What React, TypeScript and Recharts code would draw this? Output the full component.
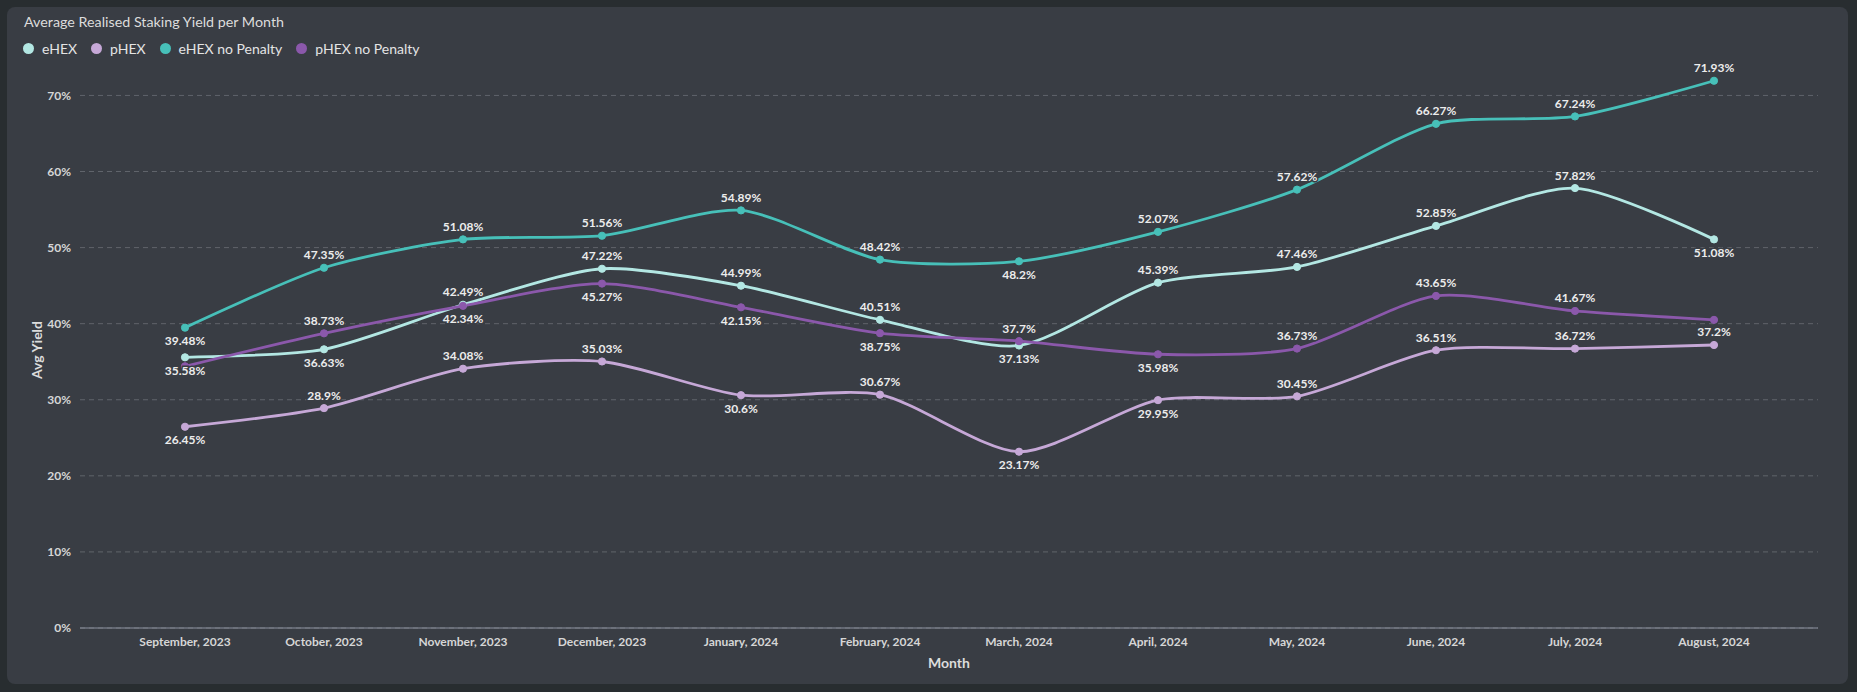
import React from "react";
import {
  LineChart,
  Line,
  XAxis,
  YAxis,
  CartesianGrid,
  LabelList,
  Label,
} from "recharts";

const months = [
  "September, 2023",
  "October, 2023",
  "November, 2023",
  "December, 2023",
  "January, 2024",
  "February, 2024",
  "March, 2024",
  "April, 2024",
  "May, 2024",
  "June, 2024",
  "July, 2024",
  "August, 2024",
];

const eHex = [35.58, 36.63, 42.49, 47.22, 44.99, 40.51, 37.13, 45.39, 47.46, 52.85, 57.82, 51.08];
const pHex = [26.45, 28.9, 34.08, 35.03, 30.6, 30.67, 23.17, 29.95, 30.45, 36.51, 36.72, 37.2];
const eHexNoPenalty = [39.48, 47.35, 51.08, 51.56, 54.89, 48.42, 48.2, 52.07, 57.62, 66.27, 67.24, 71.93];
const pHexNoPenalty = [34.4, 38.73, 42.34, 45.27, 42.15, 38.75, 37.7, 35.98, 36.73, 43.65, 41.67, 40.5];

const yTicks = [0, 10, 20, 30, 40, 50, 60, 70];

// which side of the point each value label sits on (null = label hidden)
type Side = "above" | "below" | null;
const eHexSides: Side[] = ["below", "below", "above", "above", "above", "above", "below", "above", "above", "above", "above", "below"];
const pHexSides: Side[] = ["below", "above", "above", "above", "below", "above", "below", "below", "above", "above", "above", "above"];
const eHexNpSides: Side[] = ["below", "above", "above", "above", "above", "above", "below", "above", "above", "above", "above", "above"];
const pHexNpSides: Side[] = [null, "above", "below", "below", "below", "below", "above", "below", "above", "above", "above", null];

const rows = months.map((month, i) => ({
  month,
  eHex: eHex[i],
  pHex: pHex[i],
  eHexNp: eHexNoPenalty[i],
  pHexNp: pHexNoPenalty[i],
}));

const CARD = "#393d44";
const FONT = "Lato, 'Noto Sans', sans-serif";

const series = [
  { key: "eHex", name: "eHEX", color: "#b3e7e3", sides: eHexSides },
  { key: "pHex", name: "pHEX", color: "#c6a8d7", sides: pHexSides },
  { key: "eHexNp", name: "eHEX no Penalty", color: "#47c0b9", sides: eHexNpSides },
  { key: "pHexNp", name: "pHEX no Penalty", color: "#8b58ab", sides: pHexNpSides },
];

// echarts-like smooth bezier
const SMOOTH = 0.25;
function smoothCurve(context: any) {
  let xs: number[] = [];
  let ys: number[] = [];
  return {
    areaStart() {},
    areaEnd() {},
    lineStart() {
      xs = [];
      ys = [];
    },
    point(x: number, y: number) {
      xs.push(+x);
      ys.push(+y);
    },
    lineEnd() {
      const n = xs.length;
      if (!n) return;
      const before: number[][] = [];
      const after: number[][] = [];
      for (let i = 0; i < n; i++) {
        if (i === 0 || i === n - 1) {
          before[i] = [xs[i], ys[i]];
          after[i] = [xs[i], ys[i]];
          continue;
        }
        const dx = xs[i + 1] - xs[i - 1];
        const dy = ys[i + 1] - ys[i - 1];
        const lp = Math.hypot(xs[i] - xs[i - 1], ys[i] - ys[i - 1]);
        const ln = Math.hypot(xs[i + 1] - xs[i], ys[i + 1] - ys[i]);
        const r = ln / (lp + ln || 1);
        before[i] = [xs[i] - dx * SMOOTH * (1 - r), ys[i] - dy * SMOOTH * (1 - r)];
        after[i] = [xs[i] + dx * SMOOTH * r, ys[i] + dy * SMOOTH * r];
      }
      context.moveTo(xs[0], ys[0]);
      for (let i = 1; i < n; i++) {
        context.bezierCurveTo(after[i - 1][0], after[i - 1][1], before[i][0], before[i][1], xs[i], ys[i]);
      }
    },
  };
}

function valueLabel(sides: Side[]) {
  return (props: any) => {
    const { x, y, value, index } = props;
    const side = sides[index];
    if (!side) return null;
    return (
      <text
        x={x}
        y={side === "above" ? y - 8.5 : y + 17.5}
        textAnchor="middle"
        fill="#ececec"
        stroke={CARD}
        strokeWidth={3}
        paintOrder="stroke"
        fontSize={12}
        fontWeight={700}
        fontFamily={FONT}
      >
        {`${value}%`}
      </text>
    );
  };
}

export default function App() {
  return (
    <div
      style={{
        position: "absolute",
        left: 0,
        top: 0,
        width: 1857,
        height: 692,
        background: "#282d30",
        fontFamily: FONT,
      }}
    >
      <div
        style={{
          position: "absolute",
          left: 7,
          top: 7,
          width: 1841,
          height: 677,
          borderRadius: 8,
          background: CARD,
        }}
      />
      <div
        style={{
          position: "absolute",
          left: 24,
          top: 13,
          fontSize: 14.3,
          color: "#dcdcdc",
          whiteSpace: "nowrap",
        }}
      >
        Average Realised Staking Yield per Month
      </div>
      <div
        style={{
          position: "absolute",
          left: 23,
          top: 40,
          display: "flex",
          alignItems: "center",
          fontSize: 14,
          color: "#e4e4e4",
          whiteSpace: "nowrap",
        }}
      >
        {series.map((s) => (
          <div key={s.key} style={{ display: "flex", alignItems: "center", marginRight: 14 }}>
            <span
              style={{
                width: 11,
                height: 11,
                borderRadius: "50%",
                background: s.color,
                marginRight: 8,
                display: "inline-block",
              }}
            />
            {s.name}
          </div>
        ))}
      </div>
      <LineChart
        width={1857}
        height={692}
        data={rows}
        margin={{ top: 65, right: 39, bottom: 24, left: 20 }}
        style={{ position: "absolute", left: 0, top: 0 }}
      >
        <CartesianGrid
          vertical={false}
          horizontalValues={yTicks}
          stroke="#60646b"
          strokeDasharray="5 4"
        />
        <XAxis
          xAxisId="frame"
          type="number"
          domain={[0, 1]}
          ticks={[0, 1]}
          height={0}
          axisLine={false}
          tick={false}
          tickSize={6}
          tickLine={{ stroke: "#8d92a0" }}
        />
        <XAxis
          dataKey="month"
          height={40}
          padding={{ left: 105, right: 104 }}
          axisLine={{ stroke: "#8d92a0" }}
          tickLine={false}
          tickSize={0}
          tickMargin={9}
          interval={0}
          tick={{ fill: "#d6d6d6", fontSize: 12, fontWeight: 700, fontFamily: FONT }}
        >
          <Label
            value="Month"
            position="insideBottom"
            offset={0}
            fill="#dcdcdc"
            fontSize={14}
            fontWeight={700}
            fontFamily={FONT}
          />
        </XAxis>
        <YAxis
          width={60}
          domain={[0, 74]}
          ticks={yTicks}
          allowDataOverflow
          axisLine={false}
          tickLine={false}
          tickSize={0}
          tickMargin={9}
          tickFormatter={(v: number) => `${v}%`}
          tick={{ fill: "#d6d6d6", fontSize: 12, fontWeight: 700, fontFamily: FONT }}
        >
          <Label
            content={() => {
              const cx = 36;
              const cy = 350;
              return (
                <text
                  x={cx}
                  y={cy}
                  transform={`rotate(-90 ${cx} ${cy})`}
                  textAnchor="middle"
                  dominantBaseline="central"
                  fill="#dcdcdc"
                  fontSize={14}
                  fontWeight={700}
                  fontFamily={FONT}
                >
                  Avg Yield
                </text>
              );
            }}
          />
        </YAxis>
        {series.map((s) => (
          <Line
            key={s.key}
            dataKey={s.key}
            name={s.name}
            type={smoothCurve as any}
            stroke={s.color}
            strokeWidth={2.8}
            dot={{ r: 3.6, fill: s.color, stroke: s.color, strokeWidth: 1 }}
            activeDot={false}
            isAnimationActive={false}
          >
            <LabelList dataKey={s.key} content={valueLabel(s.sides)} />
          </Line>
        ))}
      </LineChart>
    </div>
  );
}
